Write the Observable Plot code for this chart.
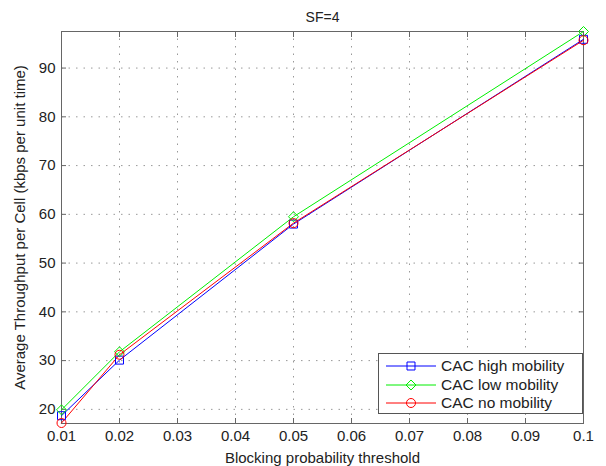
<!DOCTYPE html>
<html><head><meta charset="utf-8">
<script src="https://cdn.jsdelivr.net/npm/d3@7"></script>
<script src="https://cdn.jsdelivr.net/npm/@observablehq/plot@0.6"></script>
<style>
body{margin:0;background:#fff;}
#wrap{position:relative;width:606px;height:466px;font-family:"Liberation Sans",Arial,Helvetica,sans-serif;}
#legend{position:absolute;left:378px;top:353px;width:205px;height:61px;border:1px solid #555;background:#fff;box-sizing:border-box;font-size:15.5px;color:#222;}
.row{position:absolute;left:0;height:18px;display:flex;align-items:center;}
.row svg{display:block;}
.row span{margin-left:4px;white-space:nowrap;}
</style></head><body><div id="wrap"></div>
<script>
const thresholds = [0.01, 0.02, 0.05, 0.1];
const seriesNames = ["CAC high mobility", "CAC low mobility", "CAC no mobility"];
const highMobility = [18.7, 30.1, 58.0, 95.9];
const lowMobility = [19.9, 31.8, 59.5, 97.5];
const noMobility = [17.2, 31.2, 58.2, 95.7];
const xTicks = [0.01, 0.02, 0.03, 0.04, 0.05, 0.06, 0.07, 0.08, 0.09, 0.1];
const xTickLabels = ["0.01", "0.02", "0.03", "0.04", "0.05", "0.06", "0.07", "0.08", "0.09", "0.1"];
const yTicks = [20, 30, 40, 50, 60, 70, 80, 90];
const title = "SF=4";
const xLabel = "Blocking probability threshold";
const yLabel = "Average Throughput per Cell (kbps per unit time)";
const colors = ["#0000ff", "#00ee00", "#ff0000"];
const symbols = ["square", "diamond2", "circle"];

const seriesValues = [highMobility, lowMobility, noMobility];
const data = seriesNames.flatMap((s, k) => thresholds.map((x, i) => ({x, y: seriesValues[k][i], s})));

const font = '"Liberation Sans", Arial, Helvetica, sans-serif';
const chart = Plot.plot({
  width: 606, height: 466,
  marginLeft: 61, marginRight: 23, marginTop: 31, marginBottom: 43,
  style: {fontFamily: font, fontSize: "15px", color: "#222", background: "#fff"},
  x: {domain: [0.01, 0.1]},
  y: {domain: [17.1, 97.5]},
  color: {domain: seriesNames, range: colors},
  symbol: {domain: seriesNames, range: symbols},
  marks: [
    Plot.gridX(xTicks, {stroke: "#999", strokeOpacity: 1, strokeDasharray: "1.5,6"}),
    Plot.gridY(yTicks, {stroke: "#999", strokeOpacity: 1, strokeDasharray: "1.5,6"}),
    Plot.frame({stroke: "#666"}),
    Plot.axisX(xTicks, {anchor: "bottom", tickSize: -5, tickPadding: 12, stroke: "#666", fill: "#222",
      tickFormat: (d, i) => xTickLabels[i], label: xLabel, labelAnchor: "center", labelOffset: 39, labelArrow: "none"}),
    Plot.axisX(xTicks, {anchor: "top", tickSize: -5, stroke: "#666", tickFormat: () => "", label: null}),
    Plot.axisY(yTicks, {anchor: "left", tickSize: -5, tickPadding: 11, stroke: "#666", fill: "#222",
      label: yLabel, labelAnchor: "center", labelOffset: 47, labelArrow: "none"}),
    Plot.axisY(yTicks, {anchor: "right", tickSize: -5, stroke: "#666", tickFormat: () => "", label: null}),
    Plot.line(data, {x: "x", y: "y", z: "s", stroke: "s", strokeWidth: 1}),
    Plot.dot(data, {x: "x", y: "y", stroke: "s", symbol: "s", fill: "none", r: 4.5, strokeWidth: 1}),
    Plot.text([title], {frameAnchor: "top", dy: -10, lineAnchor: "bottom", fontSize: 14, fill: "#222"})
  ]
});
const wrap = document.getElementById("wrap");
wrap.appendChild(chart);

const legend = document.createElement("div");
legend.id = "legend";
wrap.appendChild(legend);
const symFns = {square: d3.symbolSquare, diamond2: d3.symbolDiamond2, circle: d3.symbolCircle};
seriesNames.forEach((name, k) => {
  const row = document.createElement("div");
  row.className = "row";
  row.style.top = (3 + k * 18.5) + "px";
  const svg = d3.create("svg").attr("width", 58).attr("height", 18);
  svg.append("line").attr("x1", 7).attr("x2", 57).attr("y1", 9).attr("y2", 9).attr("stroke", colors[k]).attr("stroke-width", 1);
  svg.append("path").attr("d", d3.symbol(symFns[symbols[k]], Math.PI * 4.5 * 4.5)())
    .attr("transform", "translate(32,9)").attr("fill", "none").attr("stroke", colors[k]);
  row.appendChild(svg.node());
  const t = document.createElement("span");
  t.textContent = name;
  row.appendChild(t);
  legend.appendChild(row);
});
</script></body></html>
